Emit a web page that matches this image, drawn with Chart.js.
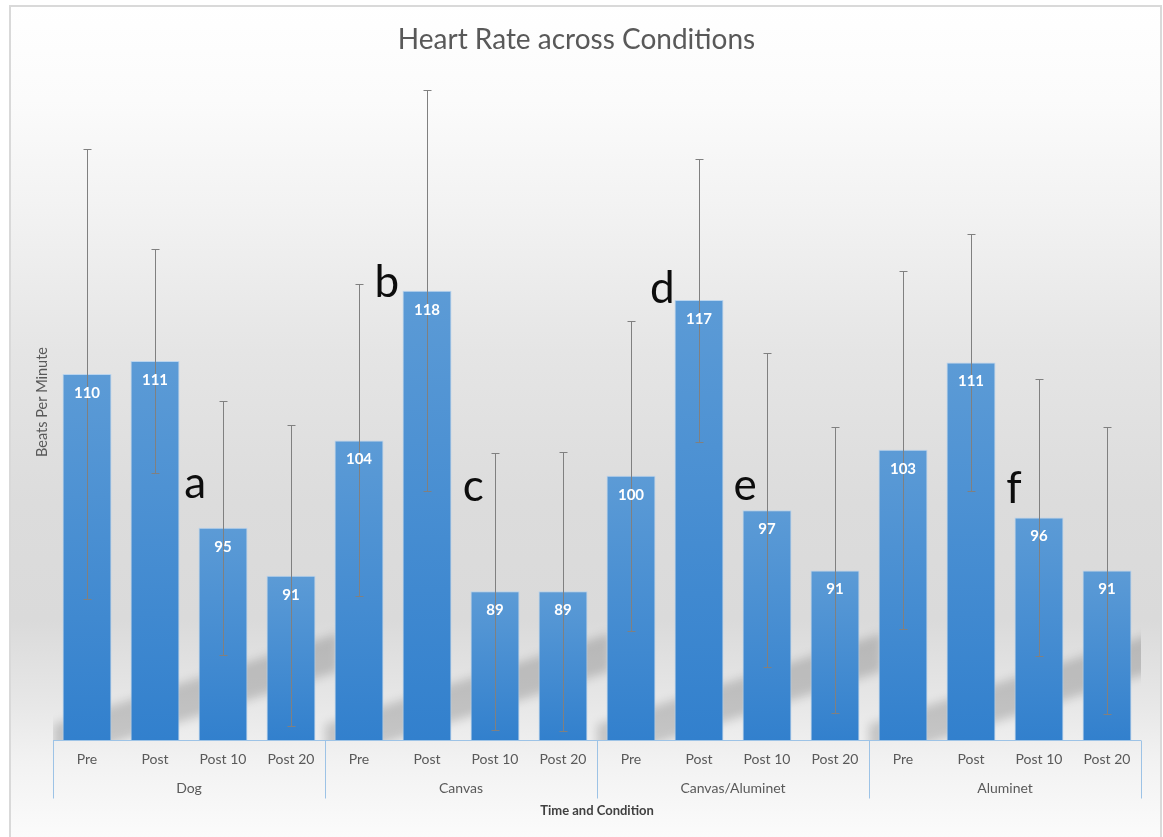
<!DOCTYPE html>
<html>
<head>
<meta charset="utf-8">
<script src="https://cdn.jsdelivr.net/npm/chart.js@4.4.0/dist/chart.umd.min.js"></script>
<style>
  html, body { margin: 0; padding: 0; background: #ffffff; }
  #hrChart { display: block; }
</style>
</head>
<body>
<canvas id="hrChart" width="1163" height="837"></canvas>
<script>
// Time points inside each condition, and the conditions themselves
const timePoints = [
  'Pre', 'Post', 'Post 10', 'Post 20',
  'Pre', 'Post', 'Post 10', 'Post 20',
  'Pre', 'Post', 'Post 10', 'Post 20',
  'Pre', 'Post', 'Post 10', 'Post 20'
];
const conditions = ['Dog', 'Canvas', 'Canvas/Aluminet', 'Aluminet'];

// Mean heart rate (bpm) and error bar size
const meanBpm = [110.2, 111.45, 95.4, 90.8, 103.8, 118.2, 89.3, 89.3, 100.4, 117.3, 97.1, 91.3, 102.9, 111.3, 96.4, 91.3];
const errBpm  = [21.6, 10.8, 12.2, 14.5, 15.0, 19.3, 13.3, 13.4, 14.9, 13.6, 15.1, 13.75, 17.2, 12.4, 13.3, 13.8];

// Significance letters: letter, position along the category axis, and bpm level of baseline
const noteLetters = ['a', 'b', 'c', 'd', 'e', 'f'];
const noteSlots   = [1.59, 4.41, 5.68, 8.46, 9.68, 13.63];
const noteLevels  = [98.3, 117.6, 98.0, 117.0, 98.1, 97.8];

const yMin = 75;
const yMax = 140;

const fontFamily = 'Lato, "Open Sans", sans-serif';
const axisBlue = '#9dc3e6';

// background panel with soft grey gradient and thin frame
const backgroundPlugin = {
  id: 'panelBackground',
  beforeDraw(chart) {
    const ctx = chart.ctx;
    const h = chart.height;
    ctx.save();
    const g = ctx.createLinearGradient(0, 0, 0, h);
    g.addColorStop(0.0, '#ffffff');
    g.addColorStop(0.12, '#fbfbfb');
    g.addColorStop(0.24, '#f3f3f3');
    g.addColorStop(0.42, '#e5e5e5');
    g.addColorStop(0.6, '#dcdcdc');
    g.addColorStop(0.74, '#dadada');
    g.addColorStop(0.84, '#e7e7e7');
    g.addColorStop(0.91, '#f2f2f2');
    g.addColorStop(1.0, '#fbfbfb');
    ctx.fillStyle = g;
    ctx.fillRect(10, 6, chart.width - 12, h);
    ctx.strokeStyle = '#d9d9d9';
    ctx.lineWidth = 2;
    ctx.strokeRect(10, 6, chart.width - 12, h + 4);
    ctx.restore();
  }
};

// diagonal floor shadow behind each condition group
const shadowPlugin = {
  id: 'floorShadow',
  beforeDatasetsDraw(chart) {
    const {ctx, chartArea, scales: {x}} = chart;
    const base = chartArea.bottom;
    ctx.save();
    ctx.beginPath();
    ctx.rect(chartArea.left, chartArea.top, chartArea.width, chartArea.height);
    ctx.clip();
    ctx.filter = 'blur(5px)';
    ctx.fillStyle = 'rgba(0, 0, 0, 0.17)';
    conditions.forEach((_, gi) => {
      const x0 = x.getPixelForValue(gi * 4 - 0.5);
      const cy = xx => base - 0.32 * (xx - x0 - 11);
      const xa = x0;
      const xb = x0 + 285;
      ctx.beginPath();
      ctx.moveTo(xa, cy(xa) - 19);
      ctx.lineTo(xb, cy(xb) - 19);
      ctx.lineTo(xb, cy(xb) + 19);
      ctx.lineTo(xa, cy(xa) + 19);
      ctx.closePath();
      ctx.fill();
    });
    ctx.restore();
  }
};

// error bars, value labels and the letters
const overlayPlugin = {
  id: 'overlay',
  afterDatasetsDraw(chart) {
    const {ctx, scales: {x, y}} = chart;
    const bars = chart.getDatasetMeta(0).data;
    ctx.save();

    // error bars
    ctx.strokeStyle = '#808080';
    ctx.lineWidth = 1;
    bars.forEach((bar, i) => {
      const cx = Math.round(bar.x) + 0.5;
      const yTop = Math.round(y.getPixelForValue(meanBpm[i] + errBpm[i])) + 0.5;
      const yBot = Math.round(y.getPixelForValue(meanBpm[i] - errBpm[i])) + 0.5;
      ctx.beginPath();
      ctx.moveTo(cx, yTop); ctx.lineTo(cx, yBot);
      ctx.moveTo(cx - 4, yTop); ctx.lineTo(cx + 4, yTop);
      ctx.moveTo(cx - 4, yBot); ctx.lineTo(cx + 4, yBot);
      ctx.stroke();
    });

    // value labels
    ctx.fillStyle = '#ffffff';
    ctx.font = 'bold 15px ' + fontFamily;
    ctx.textAlign = 'center';
    ctx.textBaseline = 'middle';
    bars.forEach((bar, i) => {
      ctx.fillText(Math.round(meanBpm[i]).toString(), bar.x, bar.y + 19);
    });

    // letters
    ctx.fillStyle = '#0d0d0d';
    ctx.font = '44px ' + fontFamily;
    ctx.textBaseline = 'alphabetic';
    noteLetters.forEach((letter, i) => {
      ctx.fillText(letter, x.getPixelForValue(noteSlots[i]), y.getPixelForValue(noteLevels[i]));
    });
    ctx.restore();
  },
  afterDraw(chart) {
    // axis line and group separators of the two level category axis
    const {ctx, chartArea, scales: {x}} = chart;
    const base = Math.round(chartArea.bottom) + 0.5;
    ctx.save();
    ctx.strokeStyle = axisBlue;
    ctx.lineWidth = 1;
    ctx.beginPath();
    ctx.moveTo(chartArea.left, base);
    ctx.lineTo(chartArea.right, base);
    for (let gi = 0; gi <= conditions.length; gi++) {
      const sx = Math.round(x.getPixelForValue(gi * 4 - 0.5)) + 0.5;
      ctx.moveTo(sx, base);
      ctx.lineTo(sx, base + 58);
    }
    ctx.stroke();
    ctx.restore();
  }
};

const ctx = document.getElementById('hrChart').getContext('2d');
const hrChart = new Chart(ctx, {
  type: 'bar',
  data: {
    labels: timePoints,
    datasets: [{
      label: 'Heart Rate',
      data: meanBpm,
      backgroundColor: (c) => {
        const chart = c.chart;
        if (!chart.chartArea || c.raw == null) return '#4a8fd3';
        const ys = chart.scales.y;
        const top = ys.getPixelForValue(c.raw);
        const bottom = ys.getPixelForValue(yMin);
        const g = chart.ctx.createLinearGradient(0, top, 0, bottom);
        g.addColorStop(0, '#5c9bd6');
        g.addColorStop(1, '#3280cd');
        return g;
      },
      borderColor: 'rgba(180, 210, 238, 0.9)',
      borderWidth: {top: 1, left: 1, right: 1, bottom: 0},
      borderSkipped: false,
      barPercentage: 0.72,
      categoryPercentage: 1.0
    }]
  },
  options: {
    responsive: false,
    animation: false,
    layout: {
      padding: {top: 6, left: 12, right: 22, bottom: 14.2}
    },
    scales: {
      x: {
        type: 'category',
        position: 'bottom',
        weight: 0,
        grid: {display: false, drawTicks: false},
        border: {display: false},
        ticks: {
          color: '#595959',
          font: {family: fontFamily, size: 14},
          padding: 10.6,
          maxRotation: 0,
          autoSkip: false
        }
      },
      x2: {
        type: 'category',
        position: 'bottom',
        weight: 1,
        labels: conditions,
        offset: true,
        grid: {display: false, drawTicks: false},
        border: {display: false},
        ticks: {
          color: '#595959',
          font: {family: fontFamily, size: 14},
          padding: 1.6,
          maxRotation: 0,
          autoSkip: false
        },
        title: {
          display: true,
          text: 'Time and Condition',
          color: '#404040',
          font: {family: fontFamily, size: 13, weight: 'bold'},
          padding: {top: 5.2, bottom: 4}
        }
      },
      y: {
        min: yMin,
        max: yMax,
        grid: {display: false, drawTicks: false},
        border: {display: false},
        ticks: {display: false},
        title: {
          display: true,
          text: 'Beats Per Minute',
          color: '#595959',
          font: {family: fontFamily, size: 14.5},
          padding: {top: 21.3, bottom: 2.3}
        }
      }
    },
    plugins: {
      legend: {display: false},
      tooltip: {enabled: false},
      title: {
        display: true,
        text: 'Heart Rate across Conditions',
        color: '#595959',
        font: {family: fontFamily, size: 28, weight: 'normal'},
        padding: {top: 17.2, bottom: 7.2}
      }
    }
  },
  plugins: [backgroundPlugin, shadowPlugin, overlayPlugin]
});
</script>
</body>
</html>
